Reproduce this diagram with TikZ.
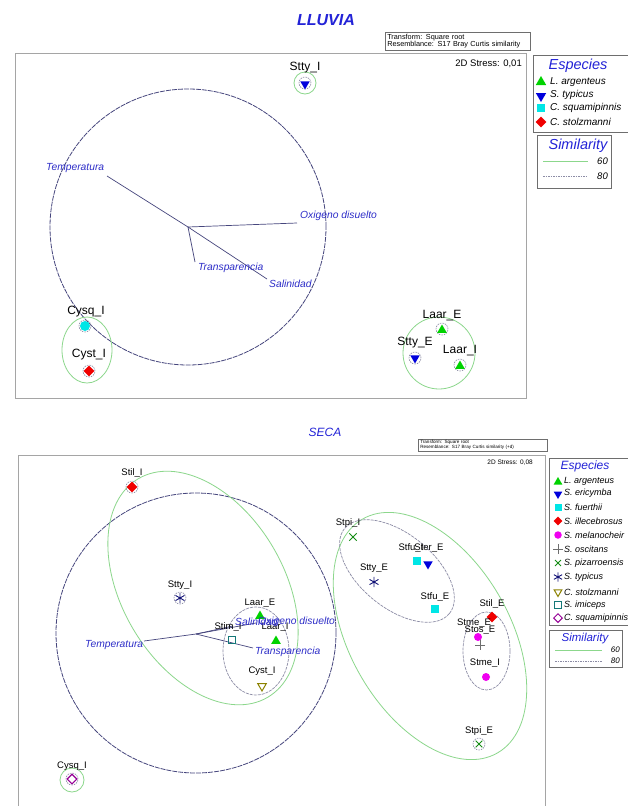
\documentclass[tikz,border=0pt]{standalone}
\usepackage{fontspec}
\setmainfont{Liberation Sans}
\usetikzlibrary{shapes.geometric}
\definecolor{envblue}{RGB}{45,45,200}
\definecolor{ttlblue}{RGB}{35,35,215}
\definecolor{navyln}{RGB}{70,70,125}
\definecolor{simgreen}{RGB}{140,215,140}
\definecolor{simgray}{RGB}{140,140,165}
\definecolor{framegray}{RGB}{165,165,165}
\definecolor{boxgray}{RGB}{110,110,110}
\definecolor{mkgreen}{RGB}{0,210,0}
\definecolor{mkblue}{RGB}{0,0,220}
\definecolor{mkcyan}{RGB}{0,230,230}
\definecolor{mkred}{RGB}{240,0,0}
\definecolor{mkmag}{RGB}{240,0,240}
\definecolor{mkplusgray}{RGB}{110,110,110}
\definecolor{mkdkgreen}{RGB}{20,140,20}
\definecolor{mknavy}{RGB}{20,20,120}
\definecolor{mkolive}{RGB}{140,130,0}
\definecolor{mkteal}{RGB}{20,120,120}
\definecolor{mkpurple}{RGB}{150,0,150}
\newcommand\fs[1]{\fontsize{#1}{#1}\selectfont}
\newcommand\mkPlus[4]{%
  \node[circle,inner sep=0pt,minimum size=#4] (#1) at (#2,#3) {};
  \draw[mkplusgray,line width=0.9pt] (#1.north) -- (#1.south) (#1.east) -- (#1.west);}
\newcommand\mkCross[4]{%
  \node[circle,inner sep=0pt,minimum size=#4] (#1) at (#2,#3) {};
  \draw[mkdkgreen,line width=1pt] (#1.north east) -- (#1.south west) (#1.north west) -- (#1.south east);}
\newcommand\mkStar[4]{%
  \node[circle,inner sep=0pt,minimum size=#4] (#1) at (#2,#3) {};
  \draw[mknavy,line width=0.9pt] (#1.90) -- (#1.270) (#1.30) -- (#1.210) (#1.150) -- (#1.330);}
\begin{document}
\begin{tikzpicture}[x=1pt,y=-1pt,
  lblA/.style={font=\fs{12},inner sep=0pt},
  lblB/.style={font=\fs{9.5},inner sep=0pt},
  envlbl/.style={font=\fs{10.3}\itshape,text=envblue,inner sep=0pt,anchor=west},
  legtxt/.style={font=\fs{#1}\itshape,inner sep=0pt,anchor=west},
  vec/.style={draw=navyln,line width=0.7pt},
  bigc/.style={draw=navyln,line width=0.8pt,dash pattern=on 5pt off 1pt},
  gsixty/.style={draw=simgreen,line width=0.8pt},
  geighty/.style={draw=simgray,line width=0.6pt,dash pattern=on 1.5pt off 1pt},
  mkup/.style={regular polygon,regular polygon sides=3,inner sep=0pt,minimum size=#1},
  mkdown/.style={regular polygon,regular polygon sides=3,shape border rotate=180,inner sep=0pt,minimum size=#1},
  mkdia/.style={diamond,inner sep=0pt,minimum size=#1},
  mksq/.style={rectangle,inner sep=0pt,minimum size=#1},
  mkcirc/.style={circle,inner sep=0pt,minimum size=#1},
  legbox/.style={draw=boxgray,line width=0.9pt},
  frm/.style={draw=framegray,line width=1pt}]
\useasboundingbox (0,0) rectangle (628,806);
\clip (0,0) rectangle (628,806);
\fill[white] (0,0) rectangle (628,806);

% ================= TOP PANEL (LLUVIA) =================
\node[font=\fs{16}\bfseries\itshape,text=ttlblue] (tTitle) at (326,20) {LLUVIA};
\node[draw=boxgray,line width=0.6pt,anchor=north west,align=left,font=\fs{7.3},
      inner xsep=2pt,inner ysep=1.5pt,text width=141pt] (tTrans) at (385,32)
      {Transform: Square root\\[0.5pt]Resemblance: S17 Bray Curtis similarity};
\draw[frm] (15,53) rectangle (526,398);
\node[font=\fs{9.5},anchor=east,inner sep=0pt] (tStress) at (522,64) {2D Stress: 0,01};

\draw[bigc] (188,227) circle[radius=138pt];
\coordinate (tO) at (188,227);
\coordinate (tTe) at (107,176);
\coordinate (tOx) at (297,223);
\coordinate (tTr) at (195,262);
\coordinate (tSa) at (267,279);
\draw[vec] (tO) -- (tTe);
\draw[vec] (tO) -- (tOx);
\draw[vec] (tO) -- (tTr);
\draw[vec] (tO) -- (tSa);
\node[envlbl] (tTemp) at (46,168) {Temperatura};
\node[envlbl] (tOxi) at (300,216) {Oxigeno disuelto};
\node[envlbl] (tTra) at (198,268) {Transparencia};
\node[envlbl] (tSal) at (269,284) {Salinidad};

% Stty_I
\draw[gsixty] (305,83) circle[radius=11pt];
\draw[geighty] (305,83) circle[radius=6pt];
\node[mkdown=11pt,fill=mkblue] (tSttyI) at (305,84) {};
\node[lblA] (tSttyIl) at (305,68) {Stty\_I};

% Cysq_I / Cyst_I
\draw[gsixty] (87,350) ellipse[x radius=25pt,y radius=33pt];
\draw[geighty] (85,326) circle[radius=6pt];
\draw[geighty] (89,371) circle[radius=6pt];
\node[mkcirc=10pt,fill=mkcyan] (tCysqI) at (85,326) {};
\node[mkdia=11pt,fill=mkred] (tCystI) at (89,371) {};
\node[lblA] (tCysqIl) at (86,312) {Cysq\_I};
\node[lblA] (tCystIl) at (89,355) {Cyst\_I};

% Right cluster
\draw[gsixty] (439,353) circle[radius=36pt];
\draw[geighty] (442,329) circle[radius=6pt];
\draw[geighty] (415,358) circle[radius=6pt];
\draw[geighty] (460,365) circle[radius=6pt];
\node[mkup=11pt,fill=mkgreen] (tLaarE) at (442,330) {};
\node[mkdown=11pt,fill=mkblue] (tSttyE) at (415,358) {};
\node[mkup=11pt,fill=mkgreen] (tLaarI) at (460,366) {};
\node[lblA] (tLaarEl) at (442,316) {Laar\_E};
\node[lblA] (tSttyEl) at (415,343) {Stty\_E};
\node[lblA] (tLaarIl) at (460,351) {Laar\_I};

% Legend top
\draw[legbox] (533,55) rectangle (640,132);
\node[font=\fs{14.5}\itshape,text=ttlblue] (tLegT) at (578,66) {Especies};
\node[mkup=12pt,fill=mkgreen] (tLg1m) at (541,82) {};
\node[legtxt=10] (tLg1) at (550,82) {L. argenteus};
\node[mkdown=12pt,fill=mkblue] (tLg2m) at (541,96) {};
\node[legtxt=10] (tLg2) at (550,95) {S. typicus};
\node[mksq=8pt,fill=mkcyan] (tLg3m) at (541,108) {};
\node[legtxt=10] (tLg3) at (550,108) {C. squamipinnis};
\node[mkdia=11pt,fill=mkred] (tLg4m) at (541,122) {};
\node[legtxt=10] (tLg4) at (550,122) {C. stolzmanni};

\draw[legbox] (537,135) rectangle (611,188);
\node[font=\fs{14.5}\itshape,text=ttlblue] (tSimT) at (578,146) {Similarity};
\coordinate (tS1a) at (543,161); \coordinate (tS1b) at (588,161);
\coordinate (tS2a) at (543,176); \coordinate (tS2b) at (588,176);
\draw[gsixty] (tS1a) -- (tS1b);
\draw[geighty] (tS2a) -- (tS2b);
\node[legtxt=9.5,anchor=east] (tS60) at (608,161) {60};
\node[legtxt=9.5,anchor=east] (tS80) at (608,176) {80};

% ================= BOTTOM PANEL (SECA) =================
\node[font=\fs{12}\itshape,text=ttlblue] (bTitle) at (325,432) {SECA};
\node[draw=boxgray,line width=0.5pt,anchor=north west,align=left,font=\fs{4.6},
      inner xsep=2pt,inner ysep=1.2pt,text width=125pt] (bTrans) at (418,439)
      {Transform: Square root\\[0.6pt]Resemblance: S17 Bray Curtis similarity (+d)};
\draw[frm] (18,455) rectangle (545,815);
\node[font=\fs{6.5},anchor=east,inner sep=0pt] (bStress) at (533,463) {2D Stress: 0,08};

% big circle and vectors
\draw[bigc] (196,633) circle[radius=140pt];
\coordinate (bO) at (196,634);
\coordinate (bTe) at (144,641);
\coordinate (bSa) at (233,626);
\coordinate (bOx) at (256,623);
\coordinate (bTr) at (253,648);
\draw[vec] (bO) -- (bTe);
\draw[vec] (bO) -- (bSa);
\draw[vec] (bO) -- (bOx);
\draw[vec] (bO) -- (bTr);

% similarity contours
\draw[gsixty,rotate around={-59.3:(203,588)}] (203,588) ellipse[x radius=127pt,y radius=81pt];
\draw[geighty,line width=0.7pt,dash pattern=on 3pt off 1pt] (256,651) ellipse[x radius=33pt,y radius=44pt];
\draw[gsixty,rotate around={-60:(430,636)}] (430,636) ellipse[x radius=135pt,y radius=80pt];
\draw[geighty,line width=0.7pt,dash pattern=on 3pt off 1pt,rotate around={-39:(397,571)}] (397,571) ellipse[x radius=67.5pt,y radius=37pt];
\draw[geighty,line width=0.7pt,dash pattern=on 3pt off 1pt] (486.5,651) ellipse[x radius=23.5pt,y radius=39pt];
\draw[gsixty] (72,780) circle[radius=12pt];
\draw[geighty] (72,779) circle[radius=6pt];
\draw[geighty] (132,487) circle[radius=6pt];
\draw[geighty] (180,598) circle[radius=6pt];
\draw[geighty] (479,744) circle[radius=6pt];

% left cluster markers
\node[mkdia=11pt,fill=mkred] (bStilI) at (132,487) {};
\node[lblB] (bStilIl) at (132,473) {Stil\_I};
\mkStar{bSttyI}{180}{598}{10pt}
\node[lblB] (bSttyIl) at (180,585) {Stty\_I};
\node[mkup=11pt,fill=mkgreen] (bLaarE) at (260,616) {};
\node[lblB] (bLaarEl) at (260,603) {Laar\_E};
\node[mksq=7pt,draw=mkteal,line width=1pt] (bStimI) at (232,640) {};
\node[lblB] (bStimIl) at (228,627) {Stim\_I};
\node[mkup=11pt,fill=mkgreen] (bLaarI) at (276,641) {};
\node[lblB] (bLaarIl) at (275,627) {Laar\_I};
\node[mkdown=10pt,draw=mkolive,line width=1pt] (bCystI) at (262,686) {};
\node[lblB] (bCystIl) at (262,671) {Cyst\_I};
\node[mkdia=10pt,draw=mkpurple,line width=1.1pt] (bCysqI) at (72,779) {};
\node[lblB] (bCysqIl) at (72,766) {Cysq\_I};

% env labels bottom
\node[envlbl] (bTemp) at (85,645) {Temperatura};
\node[envlbl] (bSal) at (235,622) {Salinidad};
\node[envlbl] (bOxi) at (258,622) {Oxigeno disuelto};
\node[envlbl] (bTra) at (255,652) {Transparencia};

% right cluster markers
\mkCross{bStpiI}{353}{537}{10pt}
\node[lblB] (bStpiIl) at (348,523) {Stpi\_I};
\node[mksq=8pt,fill=mkcyan] (bStfuI) at (417,561) {};
\node[mkdown=11pt,fill=mkblue] (bSterE) at (428,564) {};
\node[lblB] (bStfuIl) at (411,548) {Stfu\_I};
\node[lblB] (bSterEl) at (429,548) {Ster\_E};
\mkStar{bSttyE}{374}{582}{10pt}
\node[lblB] (bSttyEl) at (374,568) {Stty\_E};
\node[mksq=8pt,fill=mkcyan] (bStfuE) at (435,609) {};
\node[lblB] (bStfuEl) at (435,597) {Stfu\_E};
\node[mkdia=11pt,fill=mkred] (bStilE) at (492,617) {};
\node[lblB] (bStilEl) at (492,604) {Stil\_E};
\node[mkcirc=8pt,fill=mkmag] (bStmeE) at (478,637) {};
\mkPlus{bStosE}{480}{645}{10pt}
\node[lblB] (bStmeEl) at (474,623) {Stme\_E};
\node[lblB] (bStosEl) at (480,630) {Stos\_E};
\node[mkcirc=8pt,fill=mkmag] (bStmeI) at (486,677) {};
\node[lblB] (bStmeIl) at (485,663) {Stme\_I};
\mkCross{bStpiE}{479}{744}{9pt}
\node[lblB] (bStpiEl) at (479,731) {Stpi\_E};

% Legend bottom
\draw[legbox] (549,458) rectangle (640,625);
\node[font=\fs{12}\itshape,text=ttlblue] (bLegT) at (585,466) {Especies};
\node[mkup=10pt,fill=mkgreen] (bLg1m) at (558,482) {};
\node[legtxt=9] (bLg1) at (564,481) {L. argenteus};
\node[mkdown=10pt,fill=mkblue] (bLg2m) at (558,494) {};
\node[legtxt=9] (bLg2) at (564,493) {S. ericymba};
\node[mksq=7pt,fill=mkcyan] (bLg3m) at (558,507) {};
\node[legtxt=9] (bLg3) at (564,507) {S. fuerthii};
\node[mkdia=9pt,fill=mkred] (bLg4m) at (558,521) {};
\node[legtxt=9] (bLg4) at (564,521) {S. illecebrosus};
\node[mkcirc=7.5pt,fill=mkmag] (bLg5m) at (558,535) {};
\node[legtxt=9] (bLg5) at (564,535) {S. melanocheir};
\mkPlus{bLg6m}{558}{549}{9pt}
\node[legtxt=9] (bLg6) at (564,549) {S. oscitans};
\mkCross{bLg7m}{558}{563}{8pt}
\node[legtxt=9] (bLg7) at (564,563) {S. pizarroensis};
\mkStar{bLg8m}{558}{577}{9pt}
\node[legtxt=9] (bLg8) at (564,577) {S. typicus};
\node[mkdown=9pt,draw=mkolive,line width=1pt] (bLg9m) at (558,592) {};
\node[legtxt=9] (bLg9) at (564,592) {C. stolzmanni};
\node[mksq=6.5pt,draw=mkteal,line width=1pt] (bLg10m) at (558,605) {};
\node[legtxt=9] (bLg10) at (564,605) {S. imiceps};
\node[mkdia=9pt,draw=mkpurple,line width=1pt] (bLg11m) at (558,618) {};
\node[legtxt=9] (bLg11) at (564,618) {C. squamipinnis};

\draw[legbox] (549,630) rectangle (622,667);
\node[font=\fs{11.5}\itshape,text=ttlblue] (bSimT) at (585,639) {Similarity};
\coordinate (bS1a) at (555,650); \coordinate (bS1b) at (602,650);
\coordinate (bS2a) at (555,661); \coordinate (bS2b) at (602,661);
\draw[gsixty] (bS1a) -- (bS1b);
\draw[geighty] (bS2a) -- (bS2b);
\node[legtxt=8,anchor=east] (bS60) at (620,650) {60};
\node[legtxt=8,anchor=east] (bS80) at (620,661) {80};
\end{tikzpicture}
\end{document}
